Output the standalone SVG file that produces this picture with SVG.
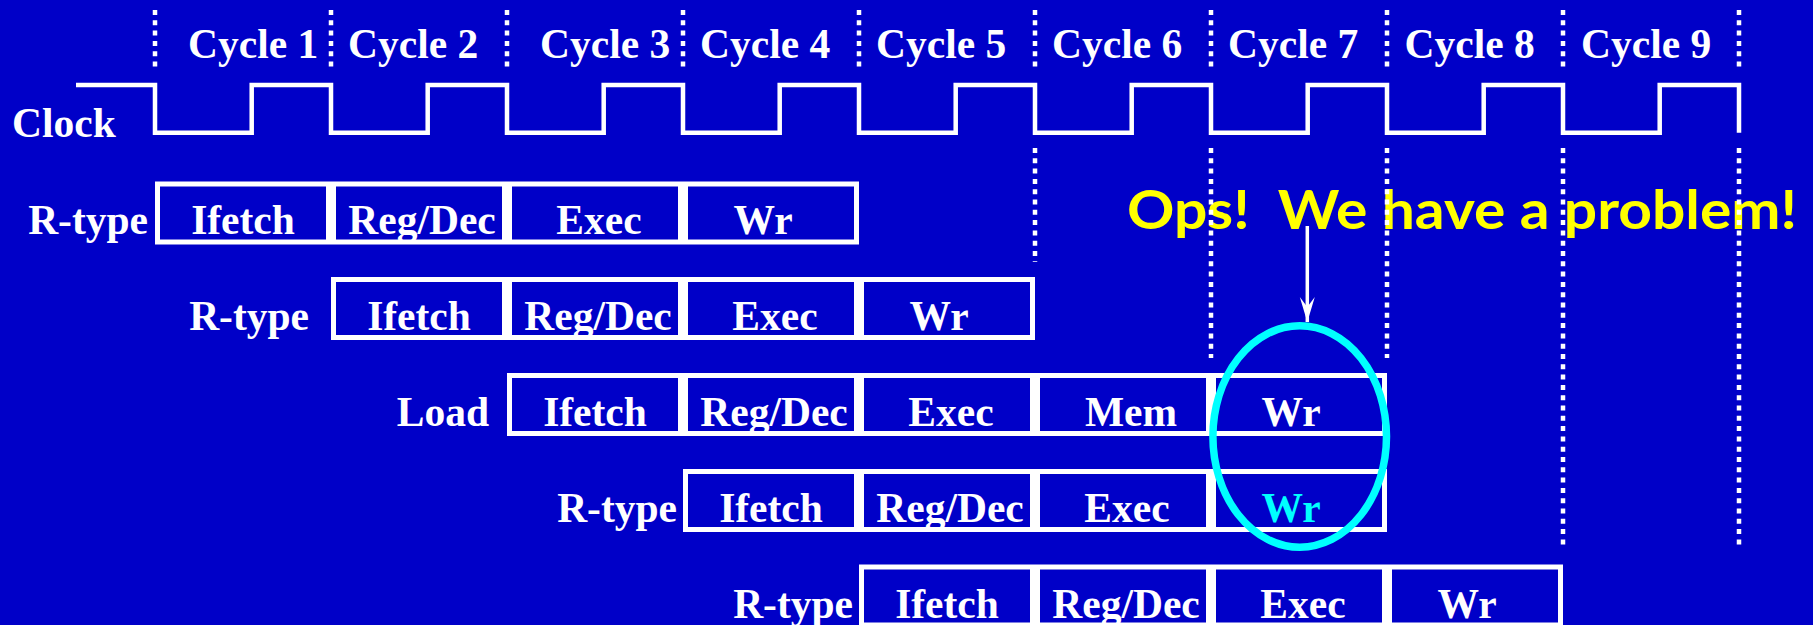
<svg xmlns="http://www.w3.org/2000/svg" width="1813" height="625" viewBox="0 0 1813 625">
<style>
.t{font-family:"Liberation Serif","Times New Roman",serif;font-weight:bold;font-size:41.5px;fill:#fff}
.c{text-anchor:middle}
.e{text-anchor:end}
.cell{fill:none;stroke:#fff;stroke-width:5}
.dot{stroke:#fff;stroke-width:4.5;stroke-dasharray:5 5.3;fill:none}
.clk{fill:none;stroke:#fff;stroke-width:4.5}
.ops{font-family:Lato,"Liberation Sans",sans-serif;font-weight:bold;font-size:54px;fill:#ffff00;white-space:pre}
</style>
<defs>
<marker id="ah" markerWidth="26" markerHeight="16" refX="25" refY="8" markerUnits="userSpaceOnUse" orient="auto" viewBox="0 0 26 16">
<path d="M25,8 L0,0.5 L10,8 L0,15.5 Z" fill="#fff"/>
</marker>
</defs>
<rect width="1813" height="625" fill="#0000c8"/>

<g id="cycle-labels">
<text class="t" x="188" y="58">Cycle 1</text>
<text class="t" x="348" y="58">Cycle 2</text>
<text class="t" x="540" y="58">Cycle 3</text>
<text class="t" x="700" y="58">Cycle 4</text>
<text class="t" x="876" y="58">Cycle 5</text>
<text class="t" x="1052" y="58">Cycle 6</text>
<text class="t" x="1228" y="58">Cycle 7</text>
<text class="t" x="1404.5" y="58">Cycle 8</text>
<text class="t" x="1581" y="58">Cycle 9</text>
</g>

<g id="clock">
<text class="t" x="12" y="137">Clock</text>
<path class="clk" d="M76,85 H155 V132.7 H251.7 V85 H331 V132.7 H427.7 V85 H507 V132.7 H603.7 V85 H683 V132.7 H779.7 V85 H859 V132.7 H955.7 V85 H1035 V132.7 H1131.7 V85 H1211 V132.7 H1307.7 V85 H1387 V132.7 H1483.7 V85 H1563 V132.7 H1659.7 V85 H1739 V132.7"/>
</g>

<g id="instr1">
<text class="t e" x="148" y="234">R-type</text>
<rect class="cell" x="157.5" y="184" width="171" height="58"/>
<rect class="cell" x="333.5" y="184" width="171" height="58"/>
<rect class="cell" x="509.5" y="184" width="171" height="58"/>
<rect class="cell" x="685.5" y="184" width="171" height="58"/>
<text class="t c" x="243" y="234">Ifetch</text>
<text class="t c" x="422" y="234">Reg/Dec</text>
<text class="t c" x="599" y="234">Exec</text>
<text class="t c" x="763" y="234">Wr</text>
</g>

<g id="instr2">
<text class="t e" x="309" y="330">R-type</text>
<rect class="cell" x="333.5" y="279.5" width="171" height="58"/>
<rect class="cell" x="509.5" y="279.5" width="171" height="58"/>
<rect class="cell" x="685.5" y="279.5" width="171" height="58"/>
<rect class="cell" x="861.5" y="279.5" width="171" height="58"/>
<text class="t c" x="419" y="330">Ifetch</text>
<text class="t c" x="598" y="330">Reg/Dec</text>
<text class="t c" x="775" y="330">Exec</text>
<text class="t c" x="939" y="330">Wr</text>
</g>

<g id="instr3">
<text class="t e" x="489" y="426">Load</text>
<rect class="cell" x="509.5" y="375.5" width="171" height="58"/>
<rect class="cell" x="685.5" y="375.5" width="171" height="58"/>
<rect class="cell" x="861.5" y="375.5" width="171" height="58"/>
<rect class="cell" x="1037.5" y="375.5" width="171" height="58"/>
<rect class="cell" x="1213.5" y="375.5" width="171" height="58"/>
<text class="t c" x="595" y="426">Ifetch</text>
<text class="t c" x="774" y="426">Reg/Dec</text>
<text class="t c" x="951" y="426">Exec</text>
<text class="t c" x="1131" y="426">Mem</text>
<text class="t c" x="1291" y="426">Wr</text>
</g>

<g id="instr4">
<text class="t e" x="677" y="522">R-type</text>
<rect class="cell" x="685.5" y="471.5" width="171" height="58"/>
<rect class="cell" x="861.5" y="471.5" width="171" height="58"/>
<rect class="cell" x="1037.5" y="471.5" width="171" height="58"/>
<rect class="cell" x="1213.5" y="471.5" width="171" height="58"/>
<text class="t c" x="771" y="522">Ifetch</text>
<text class="t c" x="950" y="522">Reg/Dec</text>
<text class="t c" x="1127" y="522">Exec</text>
<text class="t c" x="1291" y="522" style="fill:#00ffff">Wr</text>
</g>

<g id="instr5">
<text class="t e" x="853" y="618">R-type</text>
<rect class="cell" x="861.5" y="567" width="171" height="58"/>
<rect class="cell" x="1037.5" y="567" width="171" height="58"/>
<rect class="cell" x="1213.5" y="567" width="171" height="58"/>
<rect class="cell" x="1389.5" y="567" width="171" height="58"/>
<text class="t c" x="947" y="618">Ifetch</text>
<text class="t c" x="1126" y="618">Reg/Dec</text>
<text class="t c" x="1303" y="618">Exec</text>
<text class="t c" x="1467" y="618">Wr</text>
</g>

<g id="problem-note">
<text class="ops" x="1127" y="229" textLength="670" lengthAdjust="spacingAndGlyphs">Ops!  We have a problem!</text>
</g>

<g id="conflict-ellipse">
<ellipse cx="1299.7" cy="436.5" rx="86.8" ry="110.7" fill="none" stroke="#00ffff" stroke-width="7.5"/>
</g>

<g id="connectors">
<line x1="1307.3" y1="226" x2="1307.3" y2="322" stroke="#fff" stroke-width="3.5" marker-end="url(#ah)"/>
</g>

<g id="cycle-boundaries">
<path class="dot" d="M155,10 V68 M331,10 V68 M507,10 V68 M683,10 V68 M859,10 V68 M1035,10 V68 M1211,10 V68 M1387,10 V68 M1563,10 V68 M1739,10 V68"/>
<path class="dot" d="M1035,148 V262 M1211,148 V358 M1387,148 V358 M1563,148 V548 M1739,148 V548"/>
</g>
</svg>
